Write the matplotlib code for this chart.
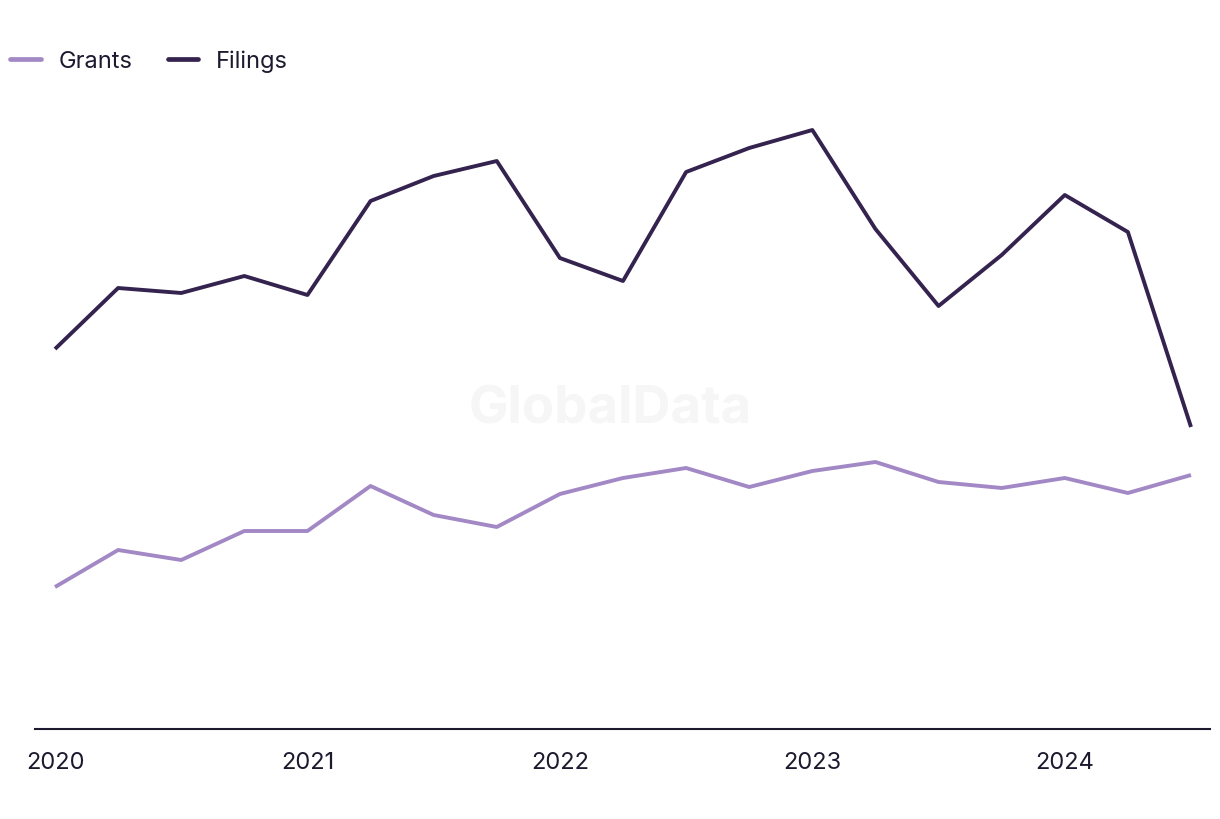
import matplotlib
matplotlib.use("Agg")
import matplotlib.pyplot as plt

plt.rcParams['font.family'] = ['Inter', 'DejaVu Sans']

# quarterly points, 2020 Q1 .. 2024 Q3
quarters = list(range(19))
filings = [380, 441, 436, 453, 434, 528, 553, 568, 471, 448, 557, 581, 599, 500, 423, 474, 534, 497, 302]
grants = [142, 179, 169, 198, 198, 243, 214, 202, 235, 251, 261, 242, 258, 267, 247, 241, 251, 236, 254]
year_pos = [0, 4, 8, 12, 16]
year_labels = ['2020', '2021', '2022', '2023', '2024']

fig = plt.figure(figsize=(12.2, 8.2), dpi=100)
ax = fig.add_axes([35 / 1220, 1 - 730 / 820, 1175 / 1220, 640 / 820])

ax.text(0.5, 1 - 410 / 820, 'GlobalData', transform=fig.transFigure, ha='center', va='center',
        fontsize=38, fontweight='bold', color='#f6f6f6', zorder=0)

ax.plot(quarters, grants, color='#a388c6', lw=2.8, label='Grants', solid_capstyle='butt')
ax.plot(quarters, filings, color='#35234f', lw=2.8, label='Filings', solid_capstyle='butt')

ax.set_xlim(-20 / 63.11, 18 + 19 / 63.11)
ax.set_ylim(0, 640)

for s in ['top', 'right', 'left']:
    ax.spines[s].set_visible(False)
ax.spines['bottom'].set_color('#1c1a2e')
ax.spines['bottom'].set_linewidth(1.5)
ax.set_yticks([])
ax.set_xticks(year_pos)
ax.set_xticklabels(year_labels, fontsize=17, color='#1c1a2e')
ax.tick_params(axis='x', length=0, pad=16)

leg = fig.legend(loc='center left', bbox_to_anchor=(10 / 1220, 1 - 62 / 820), ncol=2,
                 frameon=False, fontsize=17, handlelength=1.3, handletextpad=0.75,
                 columnspacing=1.5, borderaxespad=0, borderpad=0)
for t in leg.get_texts():
    t.set_color('#1c1a2e')
for h in leg.get_lines():
    h.set_linewidth(3.4)
    h.set_solid_capstyle('round')

fig.savefig('out.png', dpi=100)
